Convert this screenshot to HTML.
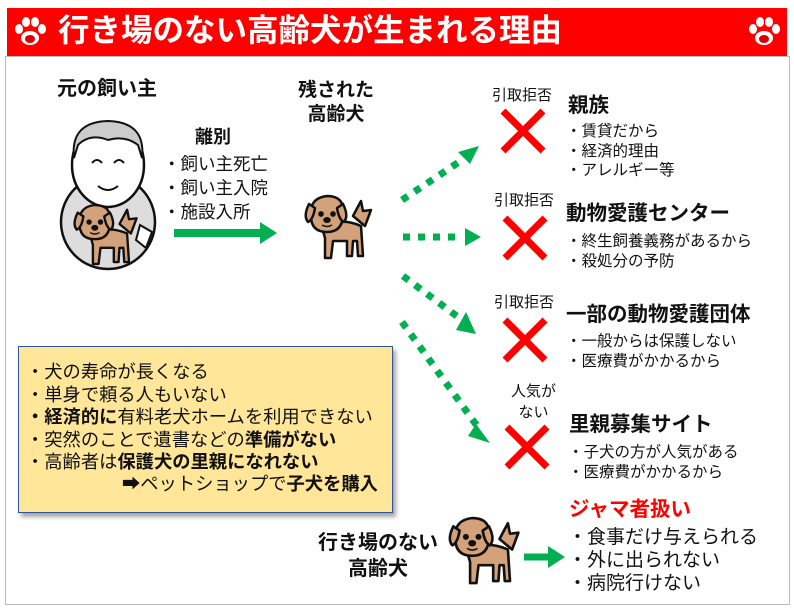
<!DOCTYPE html>
<html><head><meta charset="utf-8">
<style>
body{margin:0;width:794px;height:609px;background:#fff;position:relative;overflow:hidden;font-family:"Liberation Sans","Noto Sans CJK JP",sans-serif;color:#111}
.a{position:absolute;white-space:nowrap;line-height:1}
.b{font-weight:bold}
</style></head><body>
<div style="position:absolute;left:5px;top:56px;width:783px;height:547px;border:1px solid #bbb"></div>
<div style="position:absolute;left:7px;top:8px;width:780px;height:48px;background:#f00"></div>
<div class="a b" style="left:58px;top:15px;font-size:31.5px;color:#fff">行き場のない高齢犬が生まれる理由</div>
<svg width="794" height="609" style="position:absolute;left:0;top:0">
<defs>
<g id="paw"><ellipse cx="0" cy="6" rx="9" ry="7" fill="#fff"/><ellipse cx="-11" cy="-3" rx="4" ry="5" fill="#fff"/><ellipse cx="-4" cy="-10" rx="4" ry="5" fill="#fff"/><ellipse cx="5" cy="-10" rx="4" ry="5" fill="#fff"/><ellipse cx="12" cy="-3" rx="4" ry="5" fill="#fff"/><ellipse cx="0" cy="7" rx="5" ry="4" fill="#d00"/></g>
<g id="dog" stroke="#111" stroke-width="2.5" fill="#d4a27a" stroke-linejoin="round">
<path d="M50 20 L58 5 L60 15 L68 14 L62 30 Z"/>
<path d="M18 28 Q40 22 58 30 L60 60 L55 60 L54 45 L50 45 L49 60 L44 60 L44 45 L30 45 L28 62 L22 62 L22 42 Z"/>
<path d="M8 20 Q6 2 24 0 Q42 0 40 18 Q40 36 24 36 Q8 36 8 20 Z"/>
<path d="M6 8 Q0 20 5 26 Q10 24 12 12 Z"/><path d="M40 8 Q46 20 41 26 Q36 24 34 12 Z"/>
<circle cx="18" cy="18" r="1.6" fill="#111"/><circle cx="30" cy="18" r="1.6" fill="#111"/>
<ellipse cx="24" cy="24" rx="2.5" ry="1.8" fill="#111"/><path d="M19 29 Q24 32 29 29" fill="none" stroke-width="1.5"/>
</g>
<g id="x"><path d="M-20 -20 L20 20 M20 -20 L-20 20" stroke="#f00" stroke-width="7"/></g>
</defs>
<use href="#paw" x="30" y="32"/><use href="#paw" x="764" y="32"/>
<!-- person -->
<circle cx="108" cy="222" r="47" fill="#ddd" stroke="#111" stroke-width="2.5"/>
<ellipse cx="108" cy="165" rx="36" ry="42" fill="#fff" stroke="#111" stroke-width="2.5"/>
<path d="M74 158 Q70 122 108 121 Q146 122 142 158 L138 145 Q125 135 108 140 Q90 133 78 145 Z" fill="#ccc" stroke="#111" stroke-width="2"/>
<path d="M92 163 Q97 157 102 163 M114 163 Q119 157 124 163 M98 186 Q108 194 118 186" fill="none" stroke="#111" stroke-width="2"/>
<path d="M140 225 L152 232 L146 248 L136 240 Z" fill="#fff" stroke="#111" stroke-width="2"/>
<use href="#dog" transform="translate(72 205) scale(0.95)"/>
<use href="#dog" transform="translate(303 196)"/>
<use href="#dog" transform="translate(447 518) scale(1.05)"/>
<path d="M174 233 L262 233" stroke="#00b050" stroke-width="8"/><path d="M260 222 L277 233 L260 244 Z" fill="#00b050"/>
<path d="M524 557 L550 557" stroke="#00b050" stroke-width="7"/><path d="M548 546 L565 557 L548 568 Z" fill="#00b050"/>
<g stroke="#00b050" stroke-width="7" stroke-dasharray="7 8" fill="none">
<path d="M402 200 L462 160"/><path d="M403 237 L463 237"/><path d="M403 276 L462 320"/><path d="M402 322 L480 430"/>
</g>
<path d="M458 152 L479 146 L470 164 Z" fill="#00b050"/>
<path d="M465 228 L481 237 L465 246 Z" fill="#00b050"/>
<path d="M466 312 L476 334 L456 330 Z" fill="#00b050"/>
<path d="M476 424 L490 443 L468 436 Z" fill="#00b050"/>
<use href="#x" x="523" y="131"/><use href="#x" x="525" y="238"/><use href="#x" x="525" y="340"/><use href="#x" x="527" y="447"/>
</svg>
<div class="a b" style="left:57px;top:79px;font-size:20px">元の飼い主</div>
<div class="a b" style="left:298px;top:79px;font-size:19px;text-align:center;line-height:24px">残された<br>高齢犬</div>
<div class="a b" style="left:195px;top:128px;font-size:18px">離別</div>
<div class="a" style="left:163px;top:152px;font-size:17.5px;line-height:24px">・飼い主死亡<br>・飼い主入院<br>・施設入所</div>
<div class="a" style="left:492px;top:88px;font-size:15px">引取拒否</div>
<div class="a" style="left:494px;top:193px;font-size:15px">引取拒否</div>
<div class="a" style="left:494px;top:295px;font-size:15px">引取拒否</div>
<div class="a" style="left:511px;top:381px;font-size:15px;text-align:center;line-height:21px">人気が<br>ない</div>
<div class="a b" style="left:568px;top:96px;font-size:20.5px">親族</div>
<div class="a" style="left:566px;top:122px;font-size:15.5px;line-height:19.5px">・賃貸だから<br>・経済的理由<br>・アレルギー等</div>
<div class="a b" style="left:566px;top:204px;font-size:20.5px">動物愛護センター</div>
<div class="a" style="left:566px;top:232px;font-size:15.5px;line-height:19.5px">・終生飼養義務があるから<br>・殺処分の予防</div>
<div class="a b" style="left:566px;top:305px;font-size:20.5px">一部の動物愛護団体</div>
<div class="a" style="left:566px;top:332px;font-size:15.5px;line-height:19.5px">・一般からは保護しない<br>・医療費がかかるから</div>
<div class="a b" style="left:569px;top:415px;font-size:20.5px">里親募集サイト</div>
<div class="a" style="left:568px;top:443px;font-size:15.5px;line-height:19.5px">・子犬の方が人気がある<br>・医療費がかかるから</div>
<div class="a b" style="left:569px;top:500px;font-size:20.5px;color:#f00">ジャマ者扱い</div>
<div class="a" style="left:568px;top:526px;font-size:19px;line-height:23px">・食事だけ与えられる<br>・外に出られない<br>・病院行けない</div>
<div class="a b" style="left:318px;top:530px;font-size:20px;text-align:center;line-height:26px">行き場のない<br>高齢犬</div>
<div style="position:absolute;left:18px;top:346px;width:373px;height:165px;background:#ffe699;border:1.5px solid #2f5597;box-shadow:3px 4px 4px rgba(0,0,0,.35)"></div>
<div class="a" style="left:26px;top:361px;font-size:18.3px;line-height:22.6px">・犬の寿命が長くなる<br>・単身で頼る人もいない<br><b>・経済的に</b>有料老犬ホームを利用できない<br>・突然のことで遺書などの<b>準備がない</b><br>・高齢者は<b>保護犬の里親になれない</b></div>
<div class="a" style="left:122px;top:475px;font-size:18.3px">➡ペットショップで<b>子犬を購入</b></div>
</body></html>
